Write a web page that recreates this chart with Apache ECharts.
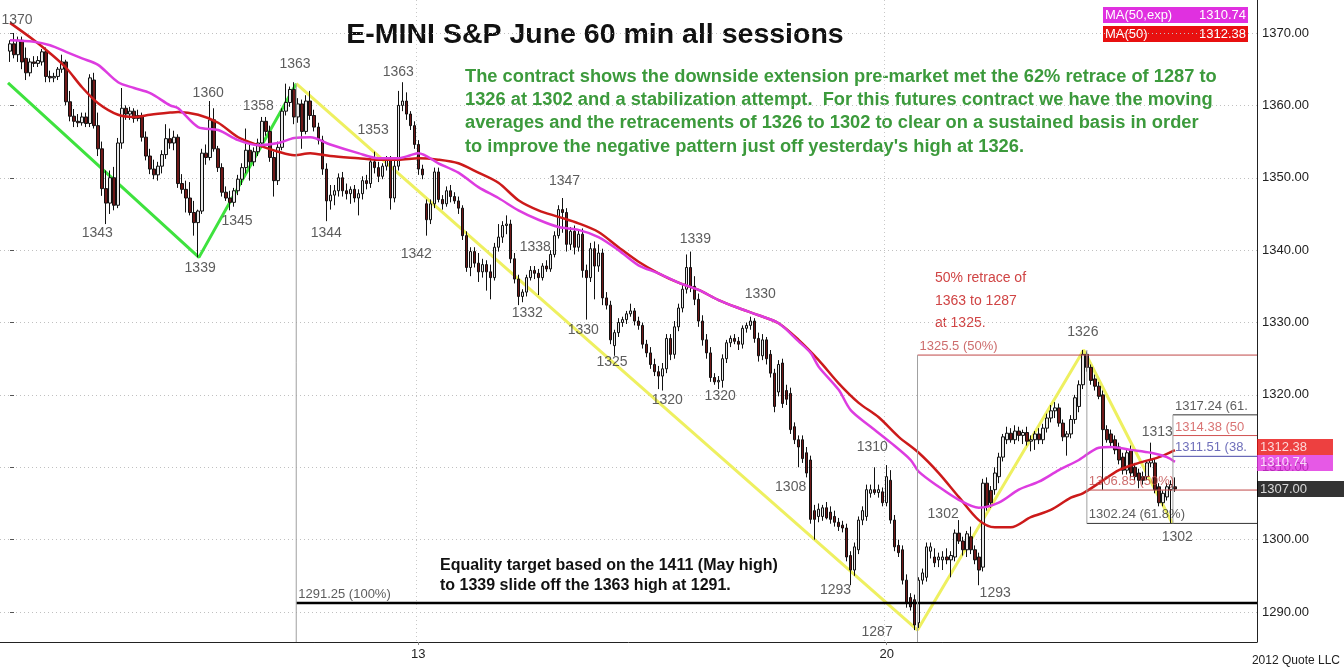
<!DOCTYPE html>
<html>
<head>
<meta charset="utf-8">
<script src="https://cdn.jsdelivr.net/npm/echarts@6/dist/echarts.min.js"></script>
<style>
  body { margin: 0; background: #fff; }
  #chart { width: 1344px; height: 668px; }
</style>
</head>
<body>
<div id="chart"></div>
<script>
// hourly bars, [open, high, low, close]
const ohlc = [
  [1367.5,1369,1366,1368.5],[1368.5,1370,1366.5,1367],[1367,1369.5,1366,1369],[1369,1369.5,1365,1366],
  [1366.5,1368,1363.5,1364.5],[1364.5,1366.5,1364,1366],[1366,1366.8,1365.3,1365.8],[1365.8,1366.8,1365.3,1366.2],
  [1366,1367.8,1365.5,1367.4],[1367.4,1368,1363.2,1364],[1364,1364.8,1363.2,1363.8],[1363.8,1364.5,1363.2,1364],
  [1364,1365.3,1363.5,1365],[1365,1367,1364.5,1366],[1366,1366.3,1360,1360.5],[1360.5,1362,1357.8,1358.5],
  [1358.5,1359.5,1357,1357.8],[1357.8,1358.8,1357,1357.6],[1357.6,1359,1357.2,1358.4],[1358.4,1359,1357,1357.5],
  [1357.5,1364.3,1357,1363.8],[1363.5,1364.5,1356.8,1357.2],[1357.2,1359,1353,1354],[1354,1355,1347.5,1348.5],
  [1348.5,1351,1343.6,1346.5],[1346.5,1351,1345,1350],[1350,1351.5,1345.5,1346.2],[1346.2,1355.5,1345.8,1354.8],
  [1354.8,1362.4,1354,1359.6],[1359.6,1360,1358,1358.8],[1358.8,1359.8,1358,1359.2],[1359.2,1359.6,1357.6,1358.2],
  [1358.2,1359.4,1357.8,1358.6],[1358.6,1359,1355,1355.6],[1355.6,1356.4,1352.4,1353],[1353,1354,1350.5,1351.2],
  [1351.2,1352.5,1349.8,1350.4],[1350.4,1352.2,1349.6,1351.6],[1351.6,1353.8,1350.6,1353.2],[1353.2,1357.4,1352.6,1355.4],
  [1355.4,1356.8,1354,1354.8],[1354.8,1356.5,1353.8,1355.6],[1355.6,1356,1348.6,1349.2],[1349.2,1350.5,1347.8,1348.4],
  [1348.4,1349.6,1345.2,1347.2],[1347.2,1349.4,1344.8,1345.2],[1345.2,1346.8,1342,1343.8],[1343.8,1345.6,1339,1345.4],
  [1345.4,1354,1345,1353.4],[1353.4,1354.6,1351.8,1352.8],[1352.8,1360.6,1352.4,1358],[1358,1359.6,1353.6,1354],
  [1354,1354.4,1350.8,1351.4],[1351.4,1352,1347.4,1348],[1348,1348.8,1346.8,1347.2],[1347.2,1348.2,1345.5,1346.6],
  [1346.6,1348.6,1346,1348.2],[1348.2,1350.4,1347.6,1349.8],[1349.8,1352,1349,1351.4],[1351.4,1356.8,1350.6,1353.8],
  [1353.8,1355,1349.6,1352.2],[1352.2,1354.2,1351.6,1353.6],[1353.6,1355.4,1353,1354.8],[1354.8,1358.4,1354.2,1357.8],
  [1357.8,1358.4,1355.8,1356.4],[1356.4,1357.2,1352.2,1352.8],[1352.8,1353.6,1347.4,1349.6],[1349.6,1355,1349,1354.2],
  [1354.2,1359.6,1353.8,1359.2],[1359.2,1363,1358.6,1360.4],[1360.4,1362.6,1359.8,1362.2],[1362.2,1363.2,1357.4,1358.4],
  [1358.4,1361,1357.6,1360.2],[1360.2,1360.8,1354,1356.4],[1356.4,1361.4,1356,1360.6],[1360.6,1362,1358,1358.6],
  [1358.6,1359.4,1356.4,1357],[1357,1357.6,1354.6,1355.2],[1355.2,1355.8,1350.4,1351.2],[1351.2,1352,1344,1346.8],
  [1346.8,1349,1345.6,1347.6],[1347.6,1349,1346.2,1348.2],[1348.2,1350.6,1347.4,1350],[1350,1350.8,1347.4,1348.2],
  [1348.2,1349.2,1347,1347.8],[1347.8,1348.8,1346.4,1348.4],[1348.4,1349,1346.6,1347.2],[1347.2,1348.4,1344.8,1347.8],
  [1347.8,1350.2,1347,1349.6],[1349.6,1350.4,1348.4,1349.2],[1349.2,1352.8,1348.6,1352.2],[1352.2,1353.6,1350.6,1351.4],
  [1351.4,1352.2,1349.4,1350.2],[1350.2,1352,1349.8,1351.6],[1351.6,1353,1351,1352.6],[1352.6,1353,1345.6,1347.2],
  [1347.2,1352.8,1346.6,1351.6],[1351.6,1362,1351,1360],[1360,1363.2,1359.2,1360.6],[1360.6,1361.8,1358,1358.8],
  [1358.8,1359.2,1356.6,1357.2],[1357.2,1357.8,1354,1354.6],[1354.6,1355.2,1350.4,1351.2],[1351.2,1351.8,1349.8,1350.4],
  [1346.4,1347,1342,1344.2],[1344.2,1347,1343.6,1346.4],[1346.4,1351.4,1345.8,1350.8],[1350.8,1351.4,1346.6,1347],
  [1347,1347.6,1345.6,1346.4],[1346.4,1348.8,1346,1348.2],[1348.2,1349,1346.6,1347.4],[1347.4,1348,1346.4,1346.8],
  [1346.8,1347.4,1345,1345.8],[1345.8,1346.2,1341.4,1342],[1342,1342.6,1337,1337.6],[1337.6,1340.4,1336.4,1339.8],
  [1339.8,1340.4,1337.6,1338.2],[1338.2,1339.6,1335.6,1337],[1337,1338.8,1336.2,1338],[1338,1338.6,1334.4,1337],
  [1337,1338,1333.2,1336.2],[1336.2,1341,1335.8,1340.4],[1340.4,1343.6,1339.8,1341.8],[1341.8,1344,1341,1343.4],
  [1343.4,1344.8,1342.2,1343.6],[1343.6,1344.2,1338.2,1338.8],[1338.8,1339.6,1335.4,1336],[1336,1336.6,1332.4,1333.6],
  [1333.6,1334.6,1332.8,1334.2],[1334.2,1336.6,1333.6,1336.2],[1336.2,1337.8,1335.8,1337.2],[1337.2,1337.8,1336,1336.8],
  [1336.8,1337.4,1333.8,1336.2],[1336.2,1338.2,1335.8,1337.8],[1337.8,1338.6,1337,1337.4],[1337.4,1340,1337,1339.4],
  [1339.4,1342.6,1339,1342],[1342,1346.2,1341.6,1345.6],[1345.6,1347.2,1342.4,1345.2],[1345.2,1345.8,1339.8,1340.8],
  [1340.8,1343.2,1340,1342.6],[1342.6,1343.4,1339.4,1340.4],[1340.4,1342.8,1339.8,1342.2],[1342.2,1343,1336.2,1337.2],
  [1337.2,1338,1330.4,1336.2],[1336.2,1341,1335.6,1340.2],[1340.2,1341.2,1333.2,1337.8],[1337.8,1340.8,1337,1339.6],
  [1339.6,1340.2,1332.4,1333.4],[1333.4,1334.2,1331.8,1332.4],[1332.4,1333,1327,1327.6],[1326.8,1329,1325.4,1328.6],
  [1328.6,1330.6,1328,1330],[1330,1330.8,1329.4,1330.4],[1330.4,1331.6,1329.8,1331.2],[1331.2,1332.6,1330.8,1331.6],
  [1331.6,1332,1329.6,1330.2],[1330.2,1330.8,1329,1329.6],[1329.6,1330,1326.4,1327],[1327,1327.6,1325.2,1325.8],
  [1325.8,1326.6,1323.6,1324.2],[1324.2,1325,1322.6,1323.2],[1323.2,1324,1320.8,1322.6],[1322.6,1324.4,1320.6,1323.6],
  [1323.6,1328.4,1323,1327.8],[1327.8,1328.4,1324.8,1325.6],[1325.6,1330.2,1325,1329.4],[1329.4,1332.6,1328.8,1332],
  [1332,1335.2,1331.4,1334.6],[1334.6,1339.4,1334,1337.6],[1337.6,1339.8,1334.2,1335],[1335,1336.4,1332.4,1333.2],
  [1333.2,1334,1329.4,1330.2],[1330.2,1331,1326.8,1327.6],[1327.6,1328.4,1325,1325.8],[1325.8,1326.6,1321.8,1322.4],
  [1322.4,1323,1321.4,1321.8],[1321.8,1322.6,1320.8,1322],[1322,1325.6,1321,1325],[1325,1327.6,1324.4,1327.2],
  [1327.2,1328.2,1326.6,1327.8],[1327.8,1328.4,1327,1327.4],[1327.4,1328,1326.2,1327],[1327,1329.6,1326.4,1329.2],
  [1329.2,1330,1328.6,1329.6],[1329.6,1330.8,1329,1330.2],[1330.2,1330.6,1327.2,1327.8],[1327.8,1328.6,1324.6,1325.4],
  [1325.4,1328.4,1324.8,1327.6],[1327.6,1328,1324.2,1325],[1325.6,1326.2,1322.4,1323],[1323,1323.6,1317.6,1318.4],
  [1320.4,1324.8,1319.8,1324.2],[1324.4,1325,1318.2,1318.8],[1320.6,1321.4,1318.6,1319.4],[1320.2,1321,1314.6,1315.2],
  [1315.6,1316.2,1313.2,1313.8],[1313.8,1314.4,1310,1312.8],[1313.8,1314.4,1310.6,1311.2],[1312,1312.8,1308.6,1309.2],
  [1311,1311.6,1302.2,1302.8],[1304,1304.8,1300,1302.8],[1303.2,1305,1302.4,1304.2],[1303.2,1304.8,1302.6,1304.4],
  [1304.4,1305.2,1302.8,1303],[1303.8,1304.6,1302.2,1302.8],[1303.2,1304,1301.8,1302.4],[1302.4,1303,1301.2,1301.8],
  [1302,1302.6,1301,1301.6],[1301.6,1302.2,1297,1297.6],[1297.8,1298.4,1293.7,1295.8],[1295.8,1299.6,1295,1299],
  [1298.6,1303.2,1298,1302.7],[1302.7,1304.6,1302,1304],[1303.2,1307.6,1302.6,1306.9],[1306.4,1307.6,1305.8,1306.9],
  [1306.9,1310,1306.2,1306.5],[1306.5,1307.6,1305.8,1306.9],[1306.6,1307.2,1304.6,1305.1],[1305.1,1310.3,1304.6,1308.7],
  [1308.2,1309.6,1302.2,1302.7],[1302.7,1303.4,1298.4,1299],[1299.2,1300,1297.6,1298.2],[1298.6,1299.2,1293.8,1294.4],
  [1294.4,1295.2,1290.6,1291.2],[1292,1292.6,1290.2,1290.7],[1291.7,1292.4,1287.5,1288.2],[1288.5,1294.8,1287.8,1294.4],
  [1294.4,1296,1293.8,1295.4],[1294.8,1299.6,1294.2,1299],[1298.4,1299.6,1297.4,1299],[1297.6,1298.8,1296.2,1296.8],
  [1297.2,1298.2,1296.2,1297.6],[1297.2,1298.4,1295.8,1297.6],[1297.6,1298.8,1296.6,1297.2],[1297.2,1298.4,1294.8,1297.8],
  [1297.6,1301.4,1297,1300.9],[1300.9,1302.7,1299.4,1299.8],[1299.8,1300.4,1297.8,1298.6],[1298.6,1301.2,1297.6,1300.8],
  [1300.4,1301.8,1298,1298.6],[1298.6,1299.2,1296.6,1297.2],[1297.6,1298.2,1293.7,1295.8],[1296.2,1308.4,1295.6,1307.8],
  [1307.8,1308.6,1304,1304.6],[1306.8,1307.4,1304.4,1305.1],[1306.9,1310,1306.2,1309.2],[1308.7,1312,1307.8,1311.4],
  [1311.4,1314.6,1310.8,1314.2],[1313.8,1315.6,1313.2,1314.7],[1314.7,1315.4,1313.4,1313.8],[1313.8,1315.8,1313.2,1315],
  [1315,1315.6,1313.6,1314.4],[1314.4,1315.2,1313.2,1314.8],[1314.8,1315.6,1313,1313.6],[1313.6,1314.4,1312.2,1313.8],
  [1313.8,1315,1312.4,1314.6],[1314.6,1315.4,1313.2,1313.8],[1313.8,1316,1313.2,1315.4],[1315.4,1317.4,1314.8,1316.8],
  [1316.8,1318.6,1316.2,1317.8],[1317.8,1319,1316.8,1318.2],[1318.2,1318.8,1315.6,1316.1],[1316.1,1316.6,1313.6,1314.2],
  [1314.2,1315,1311.6,1314.6],[1314.6,1317.2,1314,1316.6],[1316.6,1320,1316,1319.6],[1318.4,1322,1317.6,1321.4],
  [1321.4,1326.2,1320.8,1325.6],[1325.6,1326,1323.2,1323.8],[1323.8,1324.2,1321.4,1322],[1322.2,1322.8,1320.6,1321.2],
  [1321.2,1321.8,1319.4,1319.8],[1320,1320.6,1306.9,1315.2],[1315.2,1315.8,1313.4,1313.8],[1314.6,1315.2,1312.8,1313.4],
  [1313.8,1314.4,1311.8,1312.4],[1312.8,1313.4,1310.4,1311],[1311.4,1312,1309,1309.6],[1309.6,1312.6,1309,1312],
  [1312.4,1313,1308.6,1309.2],[1310,1310.6,1308.2,1308.7],[1309.2,1309.8,1307.1,1308.2],[1308.7,1309.4,1307.6,1308.2],
  [1308.7,1311,1308.2,1310.6],[1310.6,1313.4,1310,1311],[1310.6,1311.2,1306.4,1306.9],[1307.3,1307.8,1304.6,1305.1],
  [1305.1,1306.8,1304.6,1306.4],[1305.9,1307.8,1305.4,1307.3],[1306.9,1308.2,1302.3,1307.6],[1307.3,1308.6,1306.6,1307]
];

// moving averages, [bar index, value]
const ma50 = [
  [0,1371.4],[6,1369],[10,1367.2],[14,1365.2],[18,1362.5],[22,1360.3],[27,1358.7],[31,1358.4],[35,1358.7],
  [40,1359],[42,1359.1],[47,1358.7],[52,1357.6],[57,1355.6],[62,1354.5],[67,1353.6],[71,1353.1],[75,1353.4],
  [80,1353],[87,1352.7],[92,1352.5],[97,1352.5],[102,1352.7],[107,1352.5],[112,1352],[117,1350.7],[122,1349.3],
  [127,1346.9],[132,1345.5],[137,1344.6],[142,1343.7],[147,1342.5],[152,1340.4],[157,1338.4],[162,1336.8],
  [167,1335.5],[172,1334.5],[177,1333.1],[182,1332],[187,1331],[192,1329.9],[197,1327.6],[202,1324.8],
  [207,1321.6],[212,1318.9],[217,1316.9],[222,1314.2],[227,1312],[232,1309.2],[237,1305.9],[242,1302.7],
  [246,1301.7],[250,1301.7],[255,1303.1],[260,1304.1],[265,1305.8],[268,1306.4],[272,1307.8],[277,1309.6],
  [282,1310.6],[287,1311.4],[291,1312.38]
];
const ema50 = [
  [0,1369],[6,1368.8],[10,1368.3],[14,1367.4],[18,1366.5],[22,1365.6],[27,1363.2],[31,1362.4],[35,1361.7],
  [40,1360],[42,1359.6],[47,1357],[52,1356.6],[57,1355.2],[62,1354.5],[67,1354.8],[71,1355.5],[75,1355.6],
  [80,1354.6],[87,1353.4],[92,1352.7],[97,1352.7],[100,1353.1],[102,1353.4],[107,1352],[112,1350.7],
  [117,1348.7],[122,1347.2],[127,1345.5],[132,1344.2],[137,1343.2],[142,1342.8],[147,1341.8],[152,1340],
  [157,1337.9],[162,1336.8],[167,1335.5],[172,1334.5],[177,1333.1],[182,1332],[187,1331],[192,1329.9],
  [197,1327.4],[200,1325.8],[202,1323.9],[207,1320.7],[210,1317.9],[215,1315.6],[220,1313.4],[225,1311],
  [227,1309.4],[232,1307.3],[237,1305.5],[242,1304.4],[247,1305.1],[252,1306.9],[257,1308],[262,1309.6],
  [267,1311],[272,1312.7],[275,1312.8],[280,1312.4],[285,1312],[289,1311.4],[291,1310.74]
];

// swing lines
const greenSwing = [[-0.5,1363.1],[47.2,1339],[71.5,1363]];
const yellowSwing = [[71.5,1363],[226.7,1287.5],[268.2,1326.2],[290.3,1302.3]];

// swing labels [text, bar index, price]
const swingLabels = [
  ['1370',1.75,1371.8],['1343',21.8,1342.4],['1339',47.5,1337.5],['1360',49.5,1361.7],['1345',56.7,1344],
  ['1358',62,1359.9],['1363',71.2,1365.7],['1344',79,1342.4],['1353',90.7,1356.6],['1363',97,1364.6],
  ['1342',101.5,1339.5],['1338',131.2,1340.4],['1332',129.2,1331.3],['1347',138.5,1349.5],['1330',143.2,1329],
  ['1325',150.4,1324.5],['1339',171.2,1341.5],['1320',164.2,1319.3],['1320',177.4,1319.8],['1330',187.4,1333.9],
  ['1308',195,1307.3],['1310',215.4,1312.8],['1293',206.2,1293],['1287',216.6,1287.2],['1302',233.1,1303.5],
  ['1293',246.1,1292.6],['1326',268,1328.6],['1313',286.6,1314.9],['1302',291.6,1300.4]
];

// retracement levels [value, from bar, colour, label]
const levels = [
  [1291.25, 71.5, '#000000', '1291.25 (100%)'],
  [1325.5, 226.7, '#c04848', '1325.5 (50%)'],
  [1306.85, 269, '#c04848', '1306.85 (50%)'],
  [1302.24, 269, '#333333', '1302.24 (61.8%)'],
  [1317.24, 290.5, '#333333', '1317.24 (61.8%)'],
  [1314.38, 290.5, '#d05050', '1314.38 (50%)'],
  [1311.51, 290.5, '#4848a8', '1311.51 (38.2%)']
];
// vertical anchors [bar index, from, to]
const anchors = [[71.5,1363,1285.85],[226.7,1325.5,1285.85],[269,1326.2,1302.24],[290.5,1317.24,1302.24]];

const dayIdx = [104, 221];
const dayNames = ['13', '20'];
const lastValues = [[1312.38,'#e81010'],[1310.74,'#e030e0'],[1307.00,'#000000']];

const NCAT = 314;
const cats = [];
for (let k = 0; k < NCAT; k++) {
  const d = dayIdx.indexOf(k);
  cats.push(d >= 0 ? dayNames[d] : '');
}
const RIGHT_END = NCAT - 2.5;
const FONT = "'Liberation Sans', Arial, sans-serif";

const chart = echarts.init(document.getElementById('chart'));

const series = [];
series.push({
  type: 'line', xAxisIndex: 1, yAxisIndex: 0, data: greenSwing, symbol: 'none', z: 1,
  lineStyle: {color: '#3ee23e', width: 3}, silent: true, animation: false
});
series.push({
  type: 'line', xAxisIndex: 1, yAxisIndex: 0, data: yellowSwing, symbol: 'none', z: 1,
  lineStyle: {color: '#eef060', width: 3}, silent: true, animation: false
});
series.push({
  type: 'candlestick', xAxisIndex: 0, yAxisIndex: 0, z: 2, barWidth: 3,
  data: ohlc.map((b, i) => [i + 2, b[0], b[3], b[2], b[1]]),
  encode: {x: 0, y: [1, 2, 3, 4]},
  itemStyle: {color: '#e8e8e8', color0: '#6e1818', borderColor: '#111', borderColor0: '#111', borderWidth: 1},
  animation: false
});
series.push({
  type: 'line', xAxisIndex: 1, yAxisIndex: 0, data: ma50, symbol: 'none', smooth: 0.3, z: 3,
  lineStyle: {color: '#cc1a1a', width: 2.5}, animation: false
});
series.push({
  type: 'line', xAxisIndex: 1, yAxisIndex: 0, data: ema50, symbol: 'none', smooth: 0.3, z: 3,
  lineStyle: {color: '#dd3ce0', width: 2.5}, animation: false
});
levels.forEach(l => {
  series.push({
    type: 'line', xAxisIndex: 1, yAxisIndex: 0, symbol: 'none', z: 4, animation: false,
    data: [[l[1], l[0]], [RIGHT_END, l[0]]],
    lineStyle: {color: l[2], width: l[0] === 1291.25 ? 2.5 : 1}
  });
});
anchors.forEach(a => {
  series.push({
    type: 'line', xAxisIndex: 1, yAxisIndex: 0, symbol: 'none', z: 4, animation: false,
    data: [[a[0], a[1]], [a[0], a[2]]],
    lineStyle: {color: '#a0a0a0', width: 1}
  });
});
// level labels (the ones starting near the right edge are cut at the price axis)
series.push({
  type: 'scatter', xAxisIndex: 1, yAxisIndex: 0, symbolSize: 0, z: 5, animation: false, silent: true,
  data: levels.map(l => ({
    value: [l[1], l[0]], name: l[3],
    label: Object.assign({color: l[2] === '#000000' ? '#333' : l[2]},
      l[1] > 280 ? {width: 80, overflow: 'truncate', ellipsis: ''} : {})
  })),
  label: {show: true, position: [2, -15], formatter: p => p.name, fontFamily: FONT, fontSize: 13}
});
// swing labels
series.push({
  type: 'scatter', xAxisIndex: 1, yAxisIndex: 0, symbolSize: 0, z: 5, animation: false, silent: true,
  data: swingLabels.map(s => ({value: [s[1], s[2]], name: s[0]})),
  label: {show: true, position: 'inside', formatter: p => p.name, fontFamily: FONT, fontSize: 14, color: '#333'}
});
// last value badges on the price axis
series.push({
  type: 'scatter', xAxisIndex: 1, yAxisIndex: 0, symbolSize: 0, z: 6, animation: false, silent: true, clip: false,
  data: lastValues.map((v, i) => ({
    value: [RIGHT_END, v[0]], name: v[0].toFixed(2),
    label: {
      backgroundColor: v[1],
      offset: [0, i === 0 ? -3 : (i === 1 ? 1 : 0)],
      padding: i === 2 ? [2, 40, 1, 3] : [2, 26, 1, 3]
    }
  })),
  label: {
    show: true, position: 'right', distance: 0, formatter: p => p.name, fontFamily: FONT, fontSize: 13,
    color: '#fff'
  }
});

const option = {
  backgroundColor: '#fff',
  animation: false,
  grid: [
    {left: 0, right: 87, top: -39.375, height: 723.75, outerBoundsMode: 'none', containLabel: false},
    {left: 0, right: 87, top: 0, height: 642, outerBoundsMode: 'none', containLabel: false}
  ],
  xAxis: [
    {type: 'category', gridIndex: 0, data: cats, show: false, boundaryGap: true},
    {type: 'value', gridIndex: 0, min: -2.5, max: RIGHT_END, show: false},
    {
      type: 'category', gridIndex: 1, data: cats, boundaryGap: true,
      axisLine: {lineStyle: {color: '#222', width: 1}},
      axisTick: {show: true, alignWithLabel: true, interval: (i) => dayIdx.includes(i), length: 3, lineStyle: {color: '#888'}},
      axisLabel: {interval: 0, color: '#222', fontFamily: FONT, fontSize: 13, margin: 6},
      splitLine: {show: true, interval: (i) => dayIdx.includes(i), lineStyle: {color: '#c8c8c8', type: [1, 3]}}
    }
  ],
  yAxis: [
    {
      type: 'value', gridIndex: 0, position: 'right', min: 1280, max: 1380, interval: 10,
      axisLine: {show: false},
      axisTick: {show: true, length: 4, lineStyle: {color: '#555'}},
      axisLabel: {color: '#222', fontFamily: FONT, fontSize: 13, margin: 5, formatter: v => v.toFixed(2)},
      splitLine: {show: true, lineStyle: {color: '#c0c0c0', type: [1, 3]}}
    },
    {
      type: 'value', gridIndex: 1, position: 'right', min: 0, max: 1,
      axisLine: {show: true, lineStyle: {color: '#222', width: 1}},
      axisTick: {show: false}, axisLabel: {show: false}, splitLine: {show: false}
    }
  ],
  graphic: [
    {type: 'text', style: {text: 'E-MINI S&P June 60 min all sessions', x: 595, y: 35,
      align: 'center', verticalAlign: 'middle', font: "bold 28.5px " + FONT, fill: '#111'}},
    {type: 'text', style: {
      text: "The contract shows the downside extension pre-market met the 62% retrace of 1287 to\n" +
            "1326 at 1302 and a stabilization attempt.  For this futures contract we have the moving\n" +
            "averages and the retracements of 1326 to 1302 to clear on a sustained basis in order\n" +
            "to improve the negative pattern just off yesterday's high at 1326.",
      x: 465, y: 65, font: "bold 18.3px " + FONT, fill: '#3c9a3c', lineHeight: 23.3}},
    {type: 'text', style: {
      text: "Equality target based on the 1411 (May high)\nto 1339 slide off the 1363 high at 1291.",
      x: 440, y: 556, font: "bold 16px " + FONT, fill: '#111', lineHeight: 20}},
    {type: 'text', style: {
      text: "50% retrace of\n1363 to 1287\nat 1325.", x: 935, y: 267, font: "14px " + FONT, fill: '#d04444', lineHeight: 22.5}},
    {type: 'rect', shape: {x: 1103, y: 7, width: 145, height: 16}, style: {fill: '#e030e0'}},
    {type: 'text', style: {text: 'MA(50,exp)', x: 1105, y: 15, verticalAlign: 'middle', font: "13px " + FONT, fill: '#fff'}},
    {type: 'text', style: {text: '1310.74', x: 1246, y: 15, align: 'right', verticalAlign: 'middle', font: "13px " + FONT, fill: '#fff'}},
    {type: 'rect', shape: {x: 1103, y: 26, width: 145, height: 16}, style: {fill: '#e81010'}},
    {type: 'text', style: {text: 'MA(50)', x: 1105, y: 34, verticalAlign: 'middle', font: "13px " + FONT, fill: '#fff'}},
    {type: 'text', style: {text: '1312.38', x: 1246, y: 34, align: 'right', verticalAlign: 'middle', font: "13px " + FONT, fill: '#fff'}},
    {type: 'text', style: {text: '2012 Quote LLC', x: 1340, y: 661, align: 'right', verticalAlign: 'middle', font: "12px " + FONT, fill: '#222'}}
  ],
  series: series
};
chart.setOption(option);
</script>
</body>
</html>
